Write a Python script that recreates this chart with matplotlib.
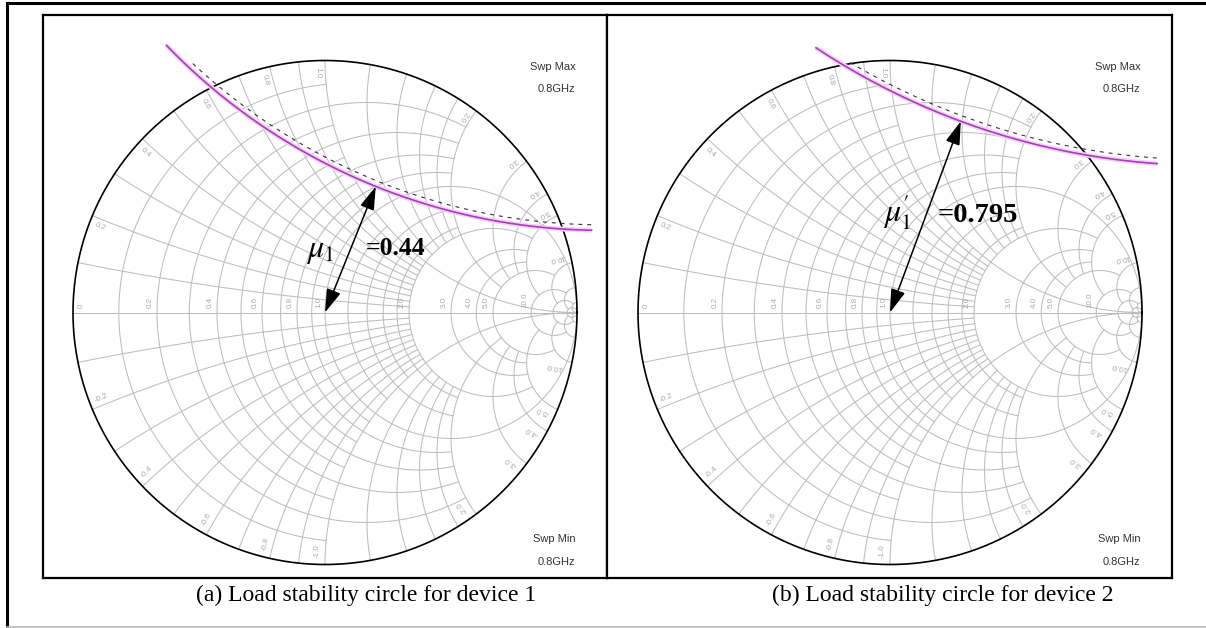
import numpy as np
import matplotlib.pyplot as plt
from matplotlib.lines import Line2D

plt.rcParams['mathtext.fontset'] = 'stix'

# Smith chart grid: normalised resistance / reactance values and how far each line runs
r_values = [0.1, 0.2, 0.3, 0.4, 0.5, 0.6, 0.7, 0.8, 0.9, 1.0,
            1.2, 1.4, 1.6, 1.8, 2.0, 3.0, 4.0, 5.0, 10.0, 20.0, 50.0]
r_reach = [1, 2, 1, 2, 1, 2, 1, 2, 1, 1000,
           1, 2, 1, 2, 5, 5, 5, 10, 20, 50, 1000]
x_values = [0.1, 0.2, 0.3, 0.4, 0.5, 0.6, 0.7, 0.8, 0.9, 1.0,
            1.2, 1.4, 1.6, 1.8, 2.0, 3.0, 4.0, 5.0, 10.0, 20.0, 50.0]
x_reach = [2, 2, 2, 2, 2, 2, 2, 2, 2, 1000,
           2, 2, 2, 2, 5, 5, 5, 10, 20, 50, 1000]

r_labels = [0, 0.2, 0.4, 0.6, 0.8, 1.0, 2.0, 3.0, 4.0, 5.0, 10.0]
x_labels = [0.2, 0.4, 0.6, 0.8, 1.0, 2.0, 3.0, 4.0, 5.0, 10.0]

# load stability circles (reflection plane) for the two devices
stab_cx = [1.10, 1.256]
stab_cy = [2.73, 3.392]
stab_rad = [2.404, 2.808]
arc_start = [-136.0, -123.5]
arc_end = [-91.0, -94.0]

mu_names = [r'$\mu_1$', r"$\mu_1^{\prime}$"]
mu_values = ['=0.44', '=0.795']
sweep_freq = '0.8GHz'
captions = ['(a) Load stability circle for device 1',
            '(b) Load stability circle for device 2']

W, H = 1206, 628
grid_c = '#bdbdbd'
label_c = '#a9a9a9'


def gamma(z):
    return (z - 1) / (z + 1)


def draw_smith(ax):
    # resistance circles
    for r, lim in zip(r_values, r_reach):
        t = np.linspace(-1, 1, 1201)
        x = np.sign(t) * ((lim + 1) ** np.abs(t) - 1)
        g = gamma(r + 1j * x)
        ax.plot(g.real, g.imag, color=grid_c, lw=0.75, zorder=1)
    # reactance arcs
    for xv, lim in zip(x_values, x_reach):
        t = np.linspace(0, 1, 800)
        r = (lim + 1) ** t - 1
        for s in (1, -1):
            g = gamma(r + 1j * s * xv)
            ax.plot(g.real, g.imag, color=grid_c, lw=0.75, zorder=1)
    ax.plot([-1, 1], [0, 0], color=grid_c, lw=0.75, zorder=1)
    th = np.linspace(0, 2 * np.pi, 721)
    ax.plot(np.cos(th), np.sin(th), color='black', lw=1.2, zorder=3)

    for r in r_labels:
        gx = gamma(r).real
        txt = '0' if r == 0 else f'{r:.1f}'
        ax.text(gx - 0.012 if r > 0 else gx + 0.045, 0.018, txt, rotation=90,
                rotation_mode='anchor', ha='left', va='bottom',
                fontsize=5.8, color=label_c, family='Liberation Sans')
    for xv in x_labels:
        for s in (1, -1):
            th0 = np.angle(gamma(1j * s * xv))
            th1 = th0 + s * 0.03
            ax.text(0.975 * np.cos(th1), 0.975 * np.sin(th1), f'{s * xv:.1f}',
                    rotation=np.degrees(th0) + 180, rotation_mode='anchor',
                    ha='left', va='center', fontsize=5.8, color=label_c,
                    family='Liberation Sans')


fig = plt.figure(figsize=(W / 100, H / 100), dpi=100)

boxes = [(43, 607), (607, 1172)]
centers_px = [325, 890]
top_px, bot_px = 15, 578
cy_px, rad_px = 312.5, 252.0
# mu x, mu y, value x, value y, mu size, value size
mu_pos = [(-0.075, 0.222, 0.163, 0.228, 23, 18.5),
          (-0.026, 0.36, 0.19, 0.36, 23, 20.5)]

for i in range(2):
    x0, x1 = boxes[i]
    ax = fig.add_axes([x0 / W, 1 - bot_px / H, (x1 - x0) / W, (bot_px - top_px) / H])
    cx = centers_px[i]
    ax.set_xlim((x0 - cx) / rad_px, (x1 - cx) / rad_px)
    ax.set_ylim((cy_px - bot_px) / rad_px, (cy_px - top_px) / rad_px)
    ax.set_xticks([])
    ax.set_yticks([])
    for sp in ax.spines.values():
        sp.set_linewidth(1.6)
        sp.set_color('black')

    draw_smith(ax)

    # stability circle arc, with the dashed side marker
    a = np.radians(np.linspace(arc_start[i], arc_end[i], 400))
    px = stab_cx[i] + stab_rad[i] * np.cos(a)
    py = stab_cy[i] + stab_rad[i] * np.sin(a)
    ax.plot(px, py, color='#f3d2f6', lw=3.5, zorder=4, solid_capstyle='butt')
    ax.plot(px, py, color='#a83cbc', lw=1.2, zorder=5)
    rd = stab_rad[i] - 0.022
    a2 = np.radians(np.linspace(arc_start[i] + 3, arc_end[i], 400))
    ax.plot(stab_cx[i] + rd * np.cos(a2), stab_cy[i] + rd * np.sin(a2),
            color='#3c2a45', lw=0.8, ls=(0, (3.5, 4.5)), zorder=5)

    # arrow from chart centre to the nearest point of the stability circle
    c = np.hypot(stab_cx[i], stab_cy[i])
    tip = (stab_cx[i] * (1 - stab_rad[i] / c), stab_cy[i] * (1 - stab_rad[i] / c))
    ax.annotate('', xy=tip, xytext=(0, 0),
                arrowprops=dict(arrowstyle='<|-|>,head_length=0.9,head_width=0.28',
                                color='black', lw=1.1, mutation_scale=16,
                                shrinkA=0, shrinkB=0), zorder=6)

    mx, my, vx, vy, ms, vs = mu_pos[i]
    ax.text(mx, my, mu_names[i], fontsize=ms, ha='left', va='baseline', zorder=7)
    ax.text(vx, vy, mu_values[i], fontsize=vs, fontweight='bold', ha='left',
            va='baseline', family='Liberation Serif', zorder=7)

    ax.text(0.995, 0.975, 'Swp Max', ha='right', va='center', fontsize=8,
            color='#333333', family='Liberation Sans')
    ax.text(0.995, 0.885, sweep_freq, ha='right', va='center', fontsize=8,
            color='#333333', family='Liberation Sans')
    ax.text(0.995, -0.9, 'Swp Min', ha='right', va='center', fontsize=8,
            color='#333333', family='Liberation Sans')
    ax.text(0.995, -0.99, sweep_freq, ha='right', va='center', fontsize=8,
            color='#333333', family='Liberation Sans')

fig.text(366 / W, 1 - 595 / H, captions[0], ha='center', va='center',
         fontsize=17, family='Liberation Serif')
fig.text(943 / W, 1 - 595 / H, captions[1], ha='center', va='center',
         fontsize=17, family='Liberation Serif')

# outer frame of the figure
fig.add_artist(Line2D([7 / W, 7 / W], [1 - 627 / H, 1 - 3 / H], color='black', lw=2.2))
fig.add_artist(Line2D([7 / W, 1], [1 - 3 / H, 1 - 3 / H], color='black', lw=2.2))
fig.add_artist(Line2D([7 / W, 1], [1 - 627 / H, 1 - 627 / H], color='#bbbbbb', lw=1.2))

fig.savefig('out.png', dpi=100)
